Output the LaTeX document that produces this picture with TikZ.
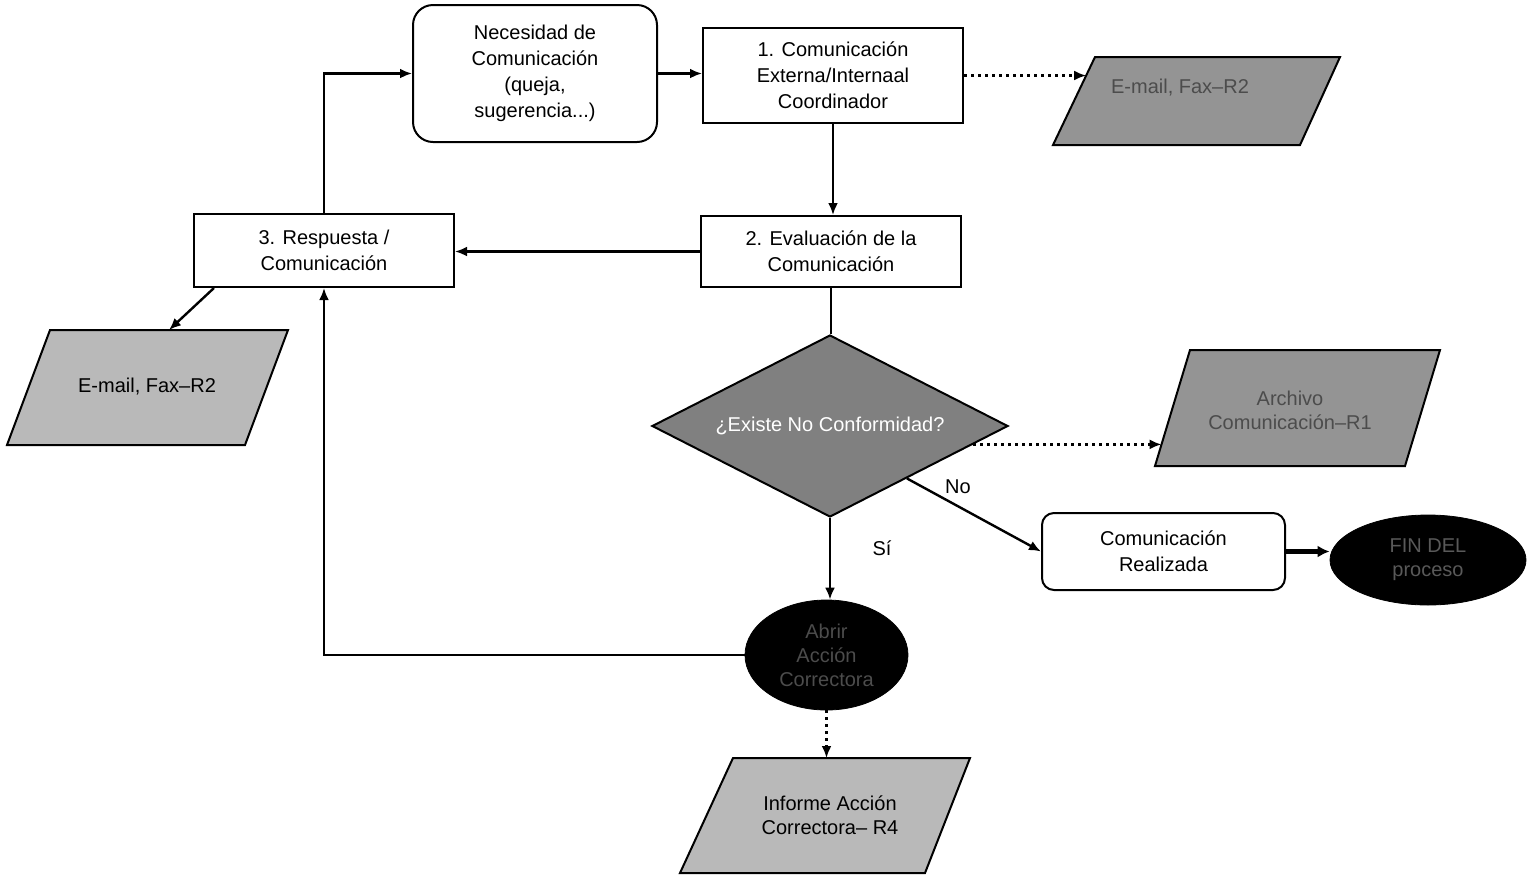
\documentclass[tikz,border=0pt]{standalone}
\usepackage{fontspec}
\setmainfont{Liberation Sans}
\usetikzlibrary{shapes.geometric,arrows.meta,calc}
\begin{document}
\begin{tikzpicture}[x=0.5pt,y=-0.5pt,
 box/.style={draw,line width=1pt,fill=white,align=center,font=\fontsize{10}{13}\selectfont,inner sep=0pt},
 paralight/.style={draw,line width=1pt,fill=gray!55},
 paradark/.style={draw,line width=1pt,fill=black!42},
 lbl/.style={font=\fontsize{10}{12}\selectfont,inner sep=0pt,align=center},
 arr/.style={line width=1.2pt,-{Latex[length=6pt,width=5pt]}},
 dotarr/.style={line width=1.5pt,dotted,-{Latex[length=6pt,width=5pt]}},
]
\useasboundingbox (0,0) rectangle (1527,875);

% boxes
\node[box,rounded corners=10pt,minimum width=122pt,minimum height=68.5pt] (nec) at (535,73.5)
  {Necesidad de\\Comunicación\\(queja,\\sugerencia...)};
\node[box,minimum width=130pt,minimum height=47.5pt] (b1) at (833,75.5)
  {1. Comunicación\\Externa/Internaal\\Coordinador};
\node[box,minimum width=130pt,minimum height=35.5pt] (b2) at (831,251.5)
  {2. Evaluación de la\\Comunicación};
\node[box,minimum width=130pt,minimum height=36.5pt] (b3) at (324,250.5)
  {3. Respuesta /\\Comunicación};
\node[box,rounded corners=6pt,minimum width=121.5pt,minimum height=38.5pt] (cr) at (1163.5,551.5)
  {Comunicación\\Realizada};

% parallelograms (drawn directly)
\coordinate (plTL) at (50,330);  \coordinate (plTR) at (288,330);
\coordinate (plBR) at (245,445); \coordinate (plBL) at (7,445);
\path[paralight] (plTL) -- (plTR) -- (plBR) -- (plBL) -- cycle;
\node[lbl] (plt) at (147,387) {E-mail, Fax–R2};

\coordinate (ptrTL) at (1095,57);  \coordinate (ptrTR) at (1340,57);
\coordinate (ptrBR) at (1300,145); \coordinate (ptrBL) at (1053,145);
\path[paradark] (ptrTL) -- (ptrTR) -- (ptrBR) -- (ptrBL) -- cycle;
\node[lbl,text=black!70] (ptrt) at (1180,88) {E-mail, Fax–R2};

\coordinate (prTL) at (1190,350);  \coordinate (prTR) at (1440,350);
\coordinate (prBR) at (1405,466);  \coordinate (prBL) at (1155,466);
\path[paradark] (prTL) -- (prTR) -- (prBR) -- (prBL) -- cycle;
\node[lbl,text=black!70] (prt) at (1290,410) {Archivo\\Comunicación–R1};

\coordinate (pbTL) at (733,758);  \coordinate (pbTR) at (970,758);
\coordinate (pbBR) at (925,873);  \coordinate (pbBL) at (680,873);
\path[paralight] (pbTL) -- (pbTR) -- (pbBR) -- (pbBL) -- cycle;
\node[lbl] (pbt) at (830,815) {Informe Acción\\Correctora– R4};

% decision
\node[diamond,draw,line width=1pt,fill=black!50,inner sep=0pt,minimum width=178pt,minimum height=91pt] (dia) at (830,426) {};
\node[lbl,text=white] (diat) at (dia.center) {¿Existe No Conformidad?};

% ellipses
\node[ellipse,draw,fill=black,inner sep=0pt,minimum width=81.5pt,minimum height=55pt] (el) at (826.5,655) {};
\node[lbl,text=black!70] (elt) at (el.center) {Abrir\\Acción\\Correctora};
\node[ellipse,draw,fill=black,inner sep=0pt,minimum width=98pt,minimum height=45pt] (fin) at (1428,560) {};
\node[lbl,text=black!65] (fint) at (fin.center) {FIN DEL\\proceso};

% connectors
\draw[arr] (b3.north) |- (nec.west);
\draw[arr] (nec.east) -- (nec.east -| b1.west);
\coordinate (ptrL) at ($(ptrTL)!0.21!(ptrBL)$);
\draw[dotarr] (b1.east) -- (b1.east -| ptrL);
\draw[arr] (b1.south) -- (b1.south |- b2.north);
\draw[arr] (b2.west) -- (b2.west -| b3.east);
\coordinate (b3sw) at ($(b3.south west)!0.08!(b3.south east)$);
\coordinate (plT) at ($(plTL)!0.5!(plTR)$);
\draw[arr] (b3sw) -- (plT);
\draw[line width=1.2pt] (b2.south) -- (b2.south |- dia.north);
\coordinate (dd) at ($(dia.east)!0.2!(dia.south)$);
\coordinate (prL) at ($(prTL)!0.81!(prBL)$);
\draw[dotarr] (dd) -- (dd -| prL);
\coordinate (dn) at ($(dia.east)!0.57!(dia.south)$);
\draw[arr] (dn) -- (cr.west);
\node[lbl] (no) at (958,487) {No};
\draw[arr] (dia.south) -- (dia.south |- el.north);
\node[lbl] (si) at (882,548) {Sí};
\draw[arr] (el.west) -| (b3.south);
\draw[dotarr] (el.south) -- (el.south |- pbTL);
\draw[line width=2.5pt,-{Latex[length=6pt,width=6pt]}] (cr.east) -- (cr.east -| fin.west);
\end{tikzpicture}
\end{document}
